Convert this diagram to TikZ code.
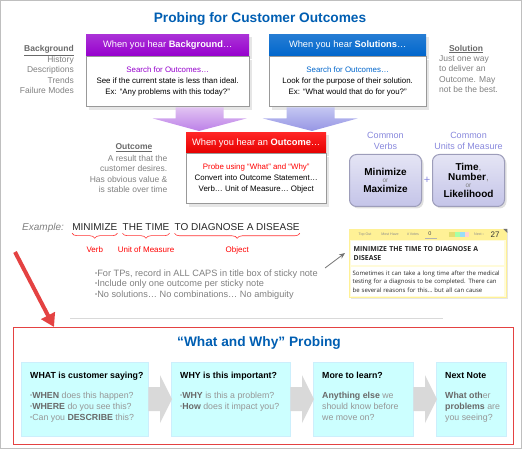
\documentclass[tikz,border=0pt]{standalone}
\usepackage{fontspec}
\setmainfont{Liberation Sans}
\newfontfamily\notefont{Open Sans}
\usepackage{xcolor}
\usepackage{tikz}
\usetikzlibrary{arrows.meta,shapes,fit,calc,positioning,shadows,decorations.pathreplacing}

\definecolor{titleblue}{RGB}{0,94,178}
\definecolor{bgpurple}{RGB}{150,0,205}
\definecolor{solblue}{RGB}{0,102,204}
\definecolor{outred}{RGB}{255,0,0}
\definecolor{lblgray}{RGB}{128,128,128}
\definecolor{boldgray}{RGB}{105,105,105}
\definecolor{softgray}{RGB}{150,150,150}
\definecolor{lavender}{RGB}{196,196,232}
\definecolor{commonblue}{RGB}{135,135,220}
\definecolor{probecyan}{RGB}{204,255,255}
\definecolor{chevgray}{RGB}{217,217,217}
\definecolor{noteyel}{RGB}{255,251,218}
\definecolor{noteband}{RGB}{255,241,150}
\definecolor{framered}{RGB}{228,66,66}
\definecolor{purptop}{RGB}{225,195,242}
\definecolor{purpbot}{RGB}{188,128,232}
\definecolor{bluetop}{RGB}{196,198,242}
\definecolor{bluebot}{RGB}{150,150,228}

\newcommand{\fsz}[2]{\fontsize{#1}{#2}\selectfont}
\newcommand{\bul}{{\fsz{6}{6}\raisebox{1pt}{•}}}

\tikzset{
  headtitle/.style={font=\bfseries\fsz{13.7}{16}, text=titleblue, inner sep=0pt},
  hearhead/.style={minimum height=22pt, inner sep=0pt, text=white, font=\fsz{9.3}{11},
    drop shadow={shadow xshift=3pt, shadow yshift=-3pt, opacity=0.2}},
  hearbody/.style={draw=black!40, line width=1pt, fill=white, minimum height=50pt, inner sep=0pt,
    align=center, font=\fsz{7.9}{11}, drop shadow={shadow xshift=3pt, shadow yshift=-3pt, opacity=0.2}},
  sidelbl/.style={font=\fsz{8.5}{10.4}, text=lblgray, inner sep=0pt},
  commonlbl/.style={font=\fsz{9}{11}, text=commonblue, align=center, inner sep=0pt},
  unitbox/.style={rounded corners=7pt, minimum width=72pt, minimum height=52pt,
    top color=lavender!45!white, bottom color=lavender, draw=lavender!80!black, line width=1pt,
    align=center, inner sep=0pt, font=\bfseries\fsz{10}{9},
    drop shadow={shadow xshift=2pt, shadow yshift=-2pt, opacity=0.25}},
  exword/.style={font=\fsz{10}{12}, text=black!85, inner sep=0pt},
  bracered/.style={decorate, decoration={brace, mirror, amplitude=5pt}, draw=red!80, line width=0.6pt},
  partlbl/.style={font=\fsz{8}{10}, text=red, inner sep=0pt},
  notetiny/.style={font=\fsz{3.6}{4}, text=black!45, inner sep=0pt},
  probebox/.style={minimum height=74pt, fill=probecyan, draw=cyan!20!white, inner sep=0pt},
  probetext/.style={align=left, inner sep=0pt, font=\fsz{8.8}{11}, text=softgray},
}

\begin{document}
\begin{tikzpicture}[x=1pt, y=-1pt]
\useasboundingbox (0,0) rectangle (522,449);
\draw[black!25] (0.5,0.5) rectangle (521.5,448.5);

\coordinate(O1) at (0,0);
\node[headtitle](title) at (260,19) {Probing for Customer Outcomes};

% top boxes
\node[below right=34pt and 86pt of O1, hearhead, minimum width=163pt, top color=bgpurple!80!white, bottom color=bgpurple](bghead) {When you hear \textbf{Background}…};
\node[below=0pt of bghead, hearbody, minimum width=163pt](bgbody) {{\color{bgpurple}Search for Outcomes…}\\See if the current state is less than ideal.\\Ex: “Any problems with this today?”};

\node[below right=34pt and 269pt of O1, hearhead, minimum width=157pt, top color=solblue!85!white, bottom color=solblue](solhead) {When you hear \textbf{Solutions}…};
\node[below=0pt of solhead, hearbody, minimum width=157pt](solbody) {{\color{solblue}Search for Outcomes…}\\Look for the purpose of their solution.\\Ex: “What would that do for you?”};

\node[sidelbl, anchor=north east, align=right](bglbl) at (74,45.5) {{\color{boldgray}\underline{\textbf{Background}}}\\History\\Descriptions\\Trends\\Failure Modes};
\node[sidelbl](sollbl) at (466,49) {{\color{boldgray}\underline{\textbf{Solution}}}};
\node[sidelbl, anchor=north west, align=left](soltxt) at (439,55.5) {Just one way\\to deliver an\\Outcome. May\\not be the best.};

% fat arrows into the outcome box
\coordinate (ptip) at (199,131);
\coordinate (btip) at (312,131);
\path[top color=purptop, bottom color=purpbot] ($(bgbody.south east)+(-74,0)$) -- ($(bgbody.south east)+(-26,0)$) -- ($(bgbody.south east)+(-26,11)$) -- ($(bgbody.south east)+(-3,11)$) -- (ptip) -- ($(bgbody.south east)+(-97,11)$) -- ($(bgbody.south east)+(-74,11)$) -- cycle;
\path[top color=bluetop, bottom color=bluebot] ($(solbody.south west)+(18,0)$) -- ($(solbody.south west)+(66,0)$) -- ($(solbody.south west)+(66,11)$) -- ($(solbody.south west)+(89,11)$) -- (btip) -- ($(solbody.south west)+(-6,11)$) -- ($(solbody.south west)+(18,11)$) -- cycle;

\node[below right=132pt and 186pt of O1, hearhead, minimum width=140pt, minimum height=21pt, top color=outred!85!white, bottom color=outred!90!black](outhead) {When you hear an \textbf{Outcome}…};
\node[below=0pt of outhead, hearbody, minimum width=140pt](outbody) {{\color{outred}Probe using “What” and “Why”}\\Convert into Outcome Statement…\\Verb… Unit of Measure… Object};

\node[sidelbl](outlbl) at (134,148) {{\color{boldgray}\underline{\textbf{Outcome}}}};
\node[sidelbl, anchor=north east, align=right](outtxt) at (167.5,155) {A result that the\\customer desires.\\Has obvious value \&\\is stable over time};

% verbs and units
\node[below right=154pt and 349pt of O1, unitbox](minbox) {Minimize\\[-2pt]{\mdseries\fsz{6.5}{7}\color{lblgray}or}\\[1pt]Maximize};
\node[below right=154pt and 432pt of O1, unitbox](timebox) {Time{\mdseries\color{lblgray},}\\[1pt]Number{\mdseries\color{lblgray},}\\[-2pt]{\mdseries\fsz{6.5}{7}\color{lblgray}or}\\[1pt]Likelihood};
\path (minbox) -- node[font=\fsz{11}{11}, text=commonblue]{+} (timebox);
\node[commonlbl, above=4pt of minbox](verbslbl) {Common\\Verbs};
\node[commonlbl, above=4pt of timebox](unitslbl) {Common\\Units of Measure};

% example statement
\node[exword, anchor=base west, font=\itshape\fsz{10}{12}, text=lblgray](exlbl) at (22,230) {Example:};
\node[exword, base right=8pt of exlbl](verbw) {MINIMIZE};
\node[exword, base right=5pt of verbw](unitw) {THE TIME};
\node[exword, base right=5pt of unitw](objw) {TO DIAGNOSE A DISEASE};
\draw[bracered] ([yshift=-3pt]verbw.south west) -- node[partlbl, below=13pt]{Verb} ([yshift=-3pt]verbw.south east);
\draw[bracered] ([yshift=-3pt]unitw.south west) -- node[partlbl, below=13pt]{Unit of Measure} ([yshift=-3pt]unitw.south east);
\draw[bracered] ([yshift=-3pt]objw.south west) -- node[partlbl, below=13pt]{Object} ([yshift=-3pt]objw.south east);

\node[sidelbl, anchor=north west, align=left, font=\fsz{9.2}{10.6}](tips) at (95,269.5) {\bul For TPs, record in ALL CAPS in title box of sticky note\\\bul Include only one outcome per sticky note\\\bul No solutions… No combinations… No ambiguity};

% sticky note
\node[below right=229pt and 349pt of O1, minimum width=157pt, minimum height=68pt, fill=noteyel, draw=noteband, inner sep=0pt, drop shadow={shadow xshift=2pt, shadow yshift=-2pt, opacity=0.2}](note) {};
\fill[noteband] (note.north west) rectangle ([yshift=-11pt]note.north east);
\node[notetiny] at ($(note.north west)+(16,5.5)$) {Top Out};
\node[notetiny] at ($(note.north west)+(41,5.5)$) {Most Have};
\node[notetiny] at ($(note.north west)+(64,5.5)$) {\# Votes};
\node[notetiny, font=\fsz{5.5}{6}, text=black!70] at ($(note.north west)+(81,5)$) {0};
\draw[black!30, line width=0.3pt] ($(note.north west)+(76,9)$) -- +(12,0);
\fill[yellow!50!olive!50] ($(note.north west)+(100,3)$) rectangle +(6,5);
\fill[green!35] ($(note.north west)+(106,3)$) rectangle +(5,5);
\fill[cyan!40] ($(note.north west)+(111,3)$) rectangle +(5,5);
\fill[pink!70] ($(note.north west)+(116,3)$) rectangle +(4,5);
\node[notetiny] at ($(note.north west)+(130,5.5)$) {Next ›};
\node[notetiny, font=\fsz{8}{8}, text=black!80] at ($(note.north west)+(146,5.5)$) {27};
\fill[black!55] ($(note.north east)+(-3,0)$) -- ($(note.north east)+(1,0)$) -- ($(note.north east)+(1,4)$) -- cycle;
\node[below right=12pt and 2pt of note.north west, minimum width=153pt, minimum height=24pt, fill=white, text width=148pt, align=left, inner xsep=2.5pt, inner ysep=0pt, font=\notefont\bfseries\fsz{6.9}{9.2}, text=black!85](notehd) {MINIMIZE THE TIME TO DIAGNOSE A\\DISEASE};
\node[below right=38pt and 2pt of note.north west, minimum width=153pt, minimum height=29pt, fill=white, text width=150pt, align=left, inner xsep=1.5pt, inner ysep=0pt, font=\notefont\fsz{6}{8.6}, text=black!85](notebd) {Sometimes it can take a long time after the medical\\testing for a diagnosis to be completed. There can\\be several reasons for this… but all can cause};

\coordinate (tiptail) at (325,268);
\draw[-{Stealth[length=6pt,width=5pt]}, black!55, line width=0.8pt] (tiptail) -- ([xshift=-4pt,yshift=-24pt]note.north west);

% what and why probing
\draw[black!15, line width=1pt] (70,318) -- (443,318);
\node[below right=327pt and 13pt of O1, minimum width=500pt, minimum height=117pt, draw=framered, line width=1.3pt, inner sep=0pt](frame) {};
\coordinate (redtail) at (15,252);
\draw[framered, line width=4pt, -{Triangle[length=13pt,width=15pt]}] (redtail) -- ([xshift=41pt]frame.north west);
\node[headtitle](wwtitle) at (259,343) {“What and Why” Probing};

\node[below right=362pt and 21pt of O1, probebox, minimum width=127pt](w1) {};
\node[below right=362pt and 171pt of O1, probebox, minimum width=119pt](w2) {};
\node[below right=362pt and 313pt of O1, probebox, minimum width=100pt](w3) {};
\node[below right=362pt and 436pt of O1, probebox, minimum width=70pt](w4) {};
\foreach \a/\b in {w1/w2,w2/w3,w3/w4}
  \fill[chevgray] ($(\a.east)+(0,-12)$) -- ($(\b.west)+(-11,-12)$) -- ($(\b.west)+(-11,-24)$) -- ($(\b.west)+(1,0)$) -- ($(\b.west)+(-11,24)$) -- ($(\b.west)+(-11,12)$) -- ($(\a.east)+(0,12)$) -- cycle;

\node[probetext, below right=10pt and 9pt of w1.north west](w1txt) {{\color{black}\textbf{WHAT is customer saying?}}\\[9pt]\bul{\color{boldgray}\textbf{WHEN}} does this happen?\\\bul{\color{boldgray}\textbf{WHERE}} do you see this?\\\bul Can you {\color{boldgray}\textbf{DESCRIBE}} this?};
\node[probetext, below right=10pt and 9pt of w2.north west](w2txt) {{\color{black}\textbf{WHY is this important?}}\\[9pt]\bul{\color{boldgray}\textbf{WHY}} is this a problem?\\\bul{\color{boldgray}\textbf{How}} does it impact you?};
\node[probetext, below right=10pt and 9pt of w3.north west](w3txt) {{\color{black}\textbf{More to learn?}}\\[9pt]{\color{boldgray}\textbf{Anything else}} we\\should know before\\we move on?};
\node[probetext, below right=10pt and 9pt of w4.north west](w4txt) {{\color{black}\textbf{Next Note}}\\[9pt]{\color{boldgray}\textbf{What oth}}er\\{\color{boldgray}\textbf{problems}} are\\you seeing?};
\end{tikzpicture}
\end{document}
